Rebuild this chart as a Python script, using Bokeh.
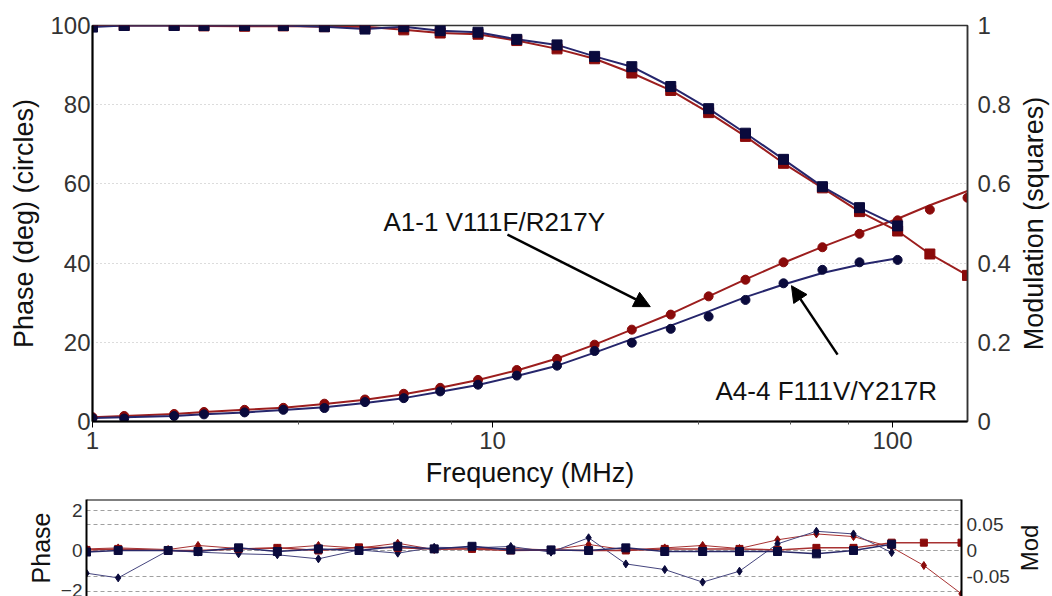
from bokeh.plotting import figure
from bokeh.models import (Range1d, LinearAxis, FixedTicker, CustomJSTickFormatter,
                          Arrow, NormalHead, Label, Span, Grid)
from bokeh.layouts import column, row
from bokeh.embed import file_html
from bokeh.resources import INLINE

# ---------------- data ----------------
freq = [1.0, 1.2, 1.6, 1.9, 2.4, 3.0, 3.8, 4.8, 6.0, 7.4, 9.2, 11.5, 14.5, 18.0,
        22.3, 27.9, 34.7, 42.9, 53.4, 66.8, 82.7, 103.0, 124.0, 154.0]
freq_blue = freq[:22]

phase_red = [1.1, 1.4, 1.9, 2.4, 2.95, 3.45, 4.5, 5.55, 7.0, 8.5, 10.5, 13.0,
             15.8, 19.4, 23.2, 27.0, 31.6, 35.8, 40.2, 44.0, 47.4, 50.8, 53.5, 56.5]
phase_red_fit = [1.1, 1.4, 1.9, 2.4, 2.95, 3.5, 4.4, 5.5, 6.9, 8.5, 10.5, 12.9,
                 15.9, 19.4, 23.2, 27.2, 31.6, 35.9, 40.1, 44.1, 47.7, 51.2, 54.6, 58.2]
phase_blue = [0.85, 0.75, 1.4, 1.8, 2.3, 2.95, 3.4, 4.9, 5.9, 7.6, 9.3, 11.6,
              14.1, 17.8, 19.9, 23.4, 26.5, 30.7, 34.9, 38.3, 40.2, 40.8]
phase_blue_fit = [0.9, 1.1, 1.4, 1.8, 2.3, 2.9, 3.6, 4.7, 5.9, 7.5, 9.2, 11.5,
                  14.1, 17.4, 20.8, 24.2, 27.8, 31.4, 34.6, 37.5, 39.6, 41.2]

mod_red = [1.0, 1.0, 1.0, 0.999, 0.998, 0.999, 0.997, 0.997, 0.989, 0.981, 0.978,
           0.962, 0.941, 0.916, 0.880, 0.836, 0.780, 0.720, 0.652, 0.590, 0.530,
           0.481, 0.423, 0.369]
mod_blue = [0.996, 1.0, 1.0, 1.0, 1.0, 1.0, 0.997, 0.991, 0.997, 0.987, 0.983,
            0.965, 0.951, 0.922, 0.896, 0.846, 0.790, 0.728, 0.662, 0.593, 0.540, 0.494]

res_phase_red = [0.08, 0.13, 0.05, 0.25, 0.1, 0.1, 0.25, 0.12, 0.36, 0.05, 0.1, 0.1,
                 0.03, 0.3, 0.03, 0.13, 0.25, 0.1, 0.53, 0.82, 0.69, 0.16, -0.74, -2.14]
res_phase_blue = [-1.12, -1.35, 0.0, -0.08, -0.16, -0.21, -0.41, 0.03, -0.13, 0.16,
                  0.13, 0.2, -0.08, 0.63, -0.66, -0.94, -1.56, -1.02, 0.33, 0.95, 0.82, -0.1]
res_mod_red = [0.001, 0.003, 0.0, 0.0, 0.003, 0.005, 0.0, 0.006, 0.005, 0.003, 0.003,
               0.0, 0.001, 0.0, 0.0, 0.003, 0.003, 0.003, 0.001, 0.005, 0.005,
               0.015, 0.015, 0.015]
res_mod_blue = [-0.003, 0.0, 0.0, -0.002, 0.005, -0.002, 0.003, 0.0, 0.008, 0.003,
                0.008, 0.001, 0.001, 0.0, 0.005, -0.002, -0.002, -0.002, -0.002,
                -0.0065, 0.0, 0.012]

phase_ticks = [0, 20, 40, 60, 80, 100]
mod_ticks = [0, 0.2, 0.4, 0.6, 0.8, 1.0]
freq_ticks = [1, 10, 100]
freq_minor = [3.27, 5.65, 7.9, 32.7, 55.6, 77.6]
res_phase_ticks = [-2, 0, 2]
res_mod_ticks = [-0.05, 0, 0.05]

label_a = "A1-1 V111F/R217Y"
label_b = "A4-4 F111V/Y217R"
title_x = "Frequency (MHz)"
title_y = "Phase (deg) (circles)"
title_y2 = "Modulation (squares)"
title_res = "Phase"
title_res2 = "Mod"

# ---------------- style ----------------
FONT = "Liberation Sans"
RED = "#8a0a0a"
RED_LINE = "#9c1e1e"
BLUE = "#0a0a3c"
BLUE_LINE = "#26266c"
TICK_COLOR = "#333333"
TITLE_COLOR = "#111111"


def side_title(text, width, height, border_left, border_top, border_bottom, size):
    """A narrow figure whose only visible content is a left-axis title
    (so that the title reads bottom-to-top like the reference)."""
    s = figure(width=width, height=height, x_range=Range1d(0, 1), y_range=Range1d(0, 1),
               x_axis_location=None, output_backend="svg", toolbar_location=None,
               min_border_left=border_left, min_border_right=0,
               min_border_top=border_top, min_border_bottom=border_bottom)
    s.outline_line_color = None
    s.xgrid.grid_line_color = None
    s.ygrid.grid_line_color = None
    s.background_fill_color = "white"
    s.border_fill_color = "white"
    ax = s.yaxis[0]
    ax.ticker = FixedTicker(ticks=[])
    ax.axis_line_color = None
    ax.major_tick_line_color = None
    ax.minor_tick_line_color = None
    ax.major_tick_out = 0
    ax.minor_tick_out = 0
    ax.major_label_standoff = 0
    ax.axis_label = text
    ax.axis_label_standoff = 0
    ax.axis_label_text_font = FONT
    ax.axis_label_text_font_size = size
    ax.axis_label_text_font_style = "normal"
    ax.axis_label_text_color = TITLE_COLOR
    return s


# ---------------- main plot ----------------
p = figure(width=1015, height=497, x_axis_type="log",
           x_range=Range1d(1, 154), y_range=Range1d(0, 100),
           output_backend="svg", toolbar_location=None,
           min_border_left=92, min_border_right=48, min_border_top=25,
           min_border_bottom=76)
p.extra_y_ranges = {"mod": Range1d(0, 1)}
p.background_fill_color = "white"
p.border_fill_color = "white"
p.outline_line_color = "#333333"
p.outline_line_width = 1.5

p.xgrid.grid_line_color = None
p.ygrid.ticker = FixedTicker(ticks=phase_ticks)
p.ygrid.grid_line_color = "#b8b8b8"
p.ygrid.grid_line_dash = "1 3"
p.ygrid.grid_line_width = 1

xa = p.xaxis[0]
xa.ticker = FixedTicker(ticks=freq_ticks, minor_ticks=freq_minor)
xa.formatter = CustomJSTickFormatter(code="return String(Math.round(tick));")
xa.axis_label = title_x
xa.axis_line_width = 2
xa.axis_line_color = "black"
xa.major_tick_line_color = "black"
xa.major_tick_out = 6
xa.major_tick_in = 0
xa.minor_tick_line_color = "#555555"
xa.minor_tick_out = 3
xa.minor_tick_in = 0
xa.major_label_standoff = 4
xa.axis_label_standoff = 6

ya = p.yaxis[0]
ya.ticker = FixedTicker(ticks=phase_ticks)
ya.axis_label = title_y
ya.axis_line_width = 2
ya.axis_line_color = "black"
ya.major_tick_line_color = None
ya.minor_tick_line_color = None
ya.major_tick_out = 0
ya.minor_tick_out = 0
ya.major_label_standoff = 2
ya.axis_label_standoff = 8

ra = LinearAxis(y_range_name="mod", ticker=FixedTicker(ticks=mod_ticks),
                formatter=CustomJSTickFormatter(code="return String(Math.round(tick*10)/10);"))
ra.axis_line_width = 1.5
ra.axis_line_color = "#333333"
ra.major_tick_line_color = None
ra.minor_tick_line_color = None
ra.major_tick_out = 0
ra.minor_tick_out = 0
ra.major_label_standoff = 10
p.add_layout(ra, "right")

for ax in (xa, ya, ra):
    ax.major_label_text_font = FONT
    ax.major_label_text_font_size = "24px"
    ax.major_label_text_color = TICK_COLOR
    ax.axis_label_text_font = FONT
    ax.axis_label_text_font_size = "27px"
    ax.axis_label_text_font_style = "normal"
    ax.axis_label_text_color = TITLE_COLOR

# lines
p.line(freq, phase_red_fit, color=RED_LINE, line_width=2)
p.line(freq_blue, phase_blue_fit, color=BLUE_LINE, line_width=2)
p.line(freq, mod_red, y_range_name="mod", color=RED_LINE, line_width=2)
p.line(freq_blue, mod_blue, y_range_name="mod", color=BLUE_LINE, line_width=2)
# markers
p.scatter(freq, phase_red, marker="circle", size=9, color=RED)
p.scatter(freq_blue, phase_blue, marker="circle", size=9, color=BLUE)
p.scatter(freq, mod_red, y_range_name="mod", marker="square", size=10, color=RED)
p.scatter(freq_blue, mod_blue, y_range_name="mod", marker="square", size=10, color=BLUE)

# annotations
p.add_layout(Label(x=5.34, y=50.3, text=label_a, text_font=FONT,
                   text_font_size="26px", text_color=TITLE_COLOR,
                   text_baseline="alphabetic"))
p.add_layout(Label(x=36.1, y=7.8, text=label_b, text_font=FONT,
                   text_font_size="26px", text_color=TITLE_COLOR,
                   text_baseline="alphabetic"))
p.add_layout(Arrow(x_start=10.9, y_start=47.2, x_end=24.8, y_end=29.0,
                   line_color="black", line_width=2.5,
                   end=NormalHead(size=16, fill_color="black", line_color="black")))
p.add_layout(Arrow(x_start=72.9, y_start=16.9, x_end=55.9, y_end=34.3,
                   line_color="black", line_width=2.5,
                   end=NormalHead(size=16, fill_color="black", line_color="black")))

s1 = side_title(title_y2, 37, 497, 33, 25, 76, "27px")

# ---------------- residual plot ----------------
q = figure(width=1012, height=99, x_axis_type="log",
           x_range=Range1d(1, 154), y_range=Range1d(-2.27, 2.52),
           x_axis_location=None,
           output_backend="svg", toolbar_location=None,
           min_border_left=86, min_border_right=49, min_border_top=2,
           min_border_bottom=0)
q.extra_y_ranges = {"mod": Range1d(-0.0885, 0.098)}
q.outline_line_color = None
q.background_fill_color = "white"
q.border_fill_color = "white"

q.xgrid.grid_line_color = None
q.ygrid.ticker = FixedTicker(ticks=res_phase_ticks)
q.ygrid.grid_line_color = "#a0a0a0"
q.ygrid.grid_line_dash = "4 3"
q.add_layout(Grid(dimension=1, y_range_name="mod",
                  ticker=FixedTicker(ticks=res_mod_ticks),
                  grid_line_color="#a0a0a0", grid_line_dash="4 3"))

qa = q.yaxis[0]
qa.ticker = FixedTicker(ticks=res_phase_ticks)
qa.axis_label = title_res
qa.axis_line_width = 2
qa.axis_line_color = "black"
qa.major_tick_line_color = None
qa.minor_tick_line_color = None
qa.major_tick_out = 0
qa.minor_tick_out = 0
qa.major_label_standoff = 4
qa.axis_label_standoff = 3

qr = LinearAxis(y_range_name="mod", ticker=FixedTicker(ticks=res_mod_ticks),
                formatter=CustomJSTickFormatter(code="return tick == 0 ? '0' : tick.toFixed(2);"))
qr.axis_line_width = 2
qr.axis_line_color = "black"
qr.major_tick_line_color = None
qr.minor_tick_line_color = None
qr.major_tick_out = 0
qr.minor_tick_out = 0
qr.major_label_standoff = 5
q.add_layout(qr, "right")

for ax in (qa, qr):
    ax.major_label_text_font = FONT
    ax.major_label_text_font_size = "19px"
    ax.major_label_text_color = TICK_COLOR
    ax.axis_label_text_font = FONT
    ax.axis_label_text_font_size = "25px"
    ax.axis_label_text_font_style = "normal"
    ax.axis_label_text_color = TITLE_COLOR

q.add_layout(Span(location=2.52, dimension="width", line_color="black", line_width=2))

q.line(freq, res_phase_red, color="#a83232", line_width=1)
q.line(freq_blue, res_phase_blue, color="#45457e", line_width=1)
q.line(freq, res_mod_red, y_range_name="mod", color="#a83232", line_width=1.5)
q.line(freq_blue, res_mod_blue, y_range_name="mod", color="#2a2a6a", line_width=1.5)
q.scatter(freq, res_phase_red, marker="diamond", size=8, color=RED)
q.scatter(freq_blue, res_phase_blue, marker="diamond", size=8, color=BLUE)
q.scatter(freq, res_mod_red, y_range_name="mod", marker="square", size=7, color=RED)
q.scatter(freq_blue, res_mod_blue, y_range_name="mod", marker="square", size=8, color=BLUE)

s2 = side_title(title_res2, 40, 99, 18, 2, 0, "24px")

layout = column(row(p, s1, spacing=0), row(q, s2, spacing=0), spacing=0)
open("out.html", "w").write(file_html(layout, INLINE))
